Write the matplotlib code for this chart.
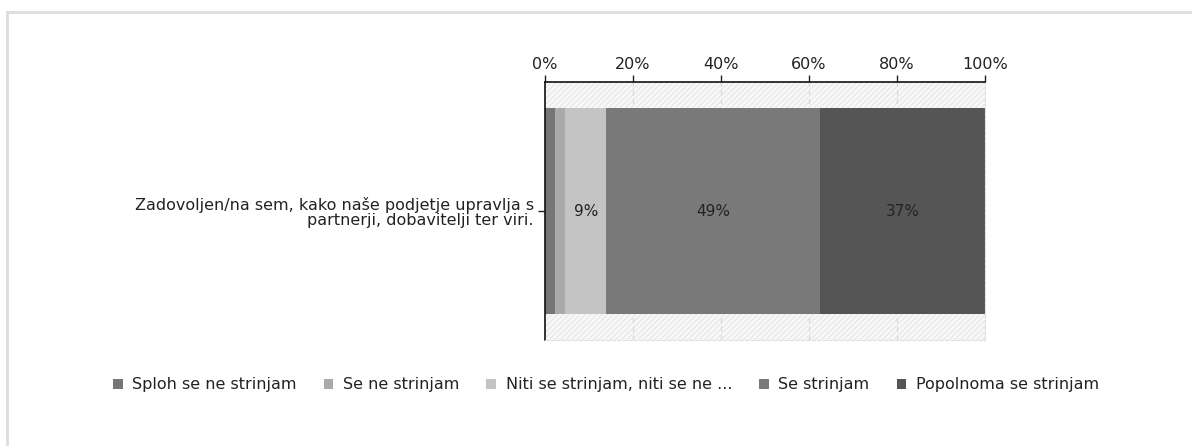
import matplotlib
matplotlib.use("Agg")
import matplotlib.pyplot as plt
from matplotlib.patches import Rectangle, Patch

# survey answer shares (percent) for the single question
question = "Zadovoljen/na sem, kako naše podjetje upravlja s\npartnerji, dobavitelji ter viri."
answers = ["Sploh se ne strinjam", "Se ne strinjam", "Niti se strinjam, niti se ne ...",
           "Se strinjam", "Popolnoma se strinjam"]
shares = [2.2, 2.4, 9.3, 48.7, 37.4]
colors = ["#767676", "#aaaaaa", "#c4c4c4", "#797979", "#555555"]
ticks = [0, 20, 40, 60, 80, 100]

plt.rcParams['font.family'] = ['DejaVu Sans']
plt.rcParams['hatch.color'] = '#e4e4e4'
plt.rcParams['hatch.linewidth'] = 0.7

FS = 11.5

fig = plt.figure(figsize=(11.92, 4.46), dpi=100)
ax = fig.add_axes([545 / 1192, 1 - 340 / 446, 440 / 1192, 258 / 446])

# hatched background behind the bar
ax.set_facecolor('#f8f8f8')
ax.add_patch(Rectangle((0, -0.5), 100, 1.0, facecolor='none', edgecolor='#e4e4e4',
                       hatch='//////', linewidth=0, zorder=0))
for t in ticks[1:]:
    ax.axvline(t, color='#d8d8d8', linestyle=(0, (4, 3)), linewidth=0.9, zorder=0.5)

left = 0
for share, color in zip(shares, colors):
    ax.barh(0, share, left=left, height=0.8, color=color, linewidth=0, zorder=2)
    if share >= 5:
        ax.text(left + share / 2, 0, f"{round(share)}%", ha='center', va='center',
                fontsize=11, color='#222222', zorder=3)
    left += share

ax.set_xlim(0, 100)
ax.set_ylim(-0.5, 0.5)
ax.xaxis.tick_top()
ax.set_xticks(ticks)
ax.set_xticklabels([f"{t}%" for t in ticks])
ax.set_yticks([0])
ax.set_yticklabels([question], ha='right', linespacing=1.0)
ax.tick_params(axis='x', length=5, width=1, color='#222222', labelsize=FS, pad=2,
               labelcolor='#222222')
ax.tick_params(axis='y', length=5, width=1, color='#222222', labelsize=FS, pad=3,
               labelcolor='#222222')

for side in ['top', 'left']:
    ax.spines[side].set_color('#111111')
    ax.spines[side].set_linewidth(1.2)
for side in ['bottom', 'right']:
    ax.spines[side].set_color('#dddddd')
    ax.spines[side].set_linestyle((0, (3, 2)))
    ax.spines[side].set_linewidth(0.8)

handles = [Patch(facecolor=c, edgecolor='none', label=a) for a, c in zip(answers, colors)]
fig.legend(handles=handles, loc='center', bbox_to_anchor=(606 / 1192, 1 - 385 / 446),
           ncol=5, frameon=False, fontsize=FS, handlelength=0.6, handleheight=0.6,
           handletextpad=0.6, columnspacing=1.7, labelcolor='#222222')

# thin frame along the top and left edge of the figure
fig.add_artist(plt.Line2D([7 / 1192, 1], [1 - 12 / 446, 1 - 12 / 446], color='#dddddd',
                          linewidth=2, transform=fig.transFigure))
fig.add_artist(plt.Line2D([7 / 1192, 7 / 1192], [0, 1 - 12 / 446], color='#dddddd',
                          linewidth=2, transform=fig.transFigure))

fig.savefig("out.png", dpi=100)
